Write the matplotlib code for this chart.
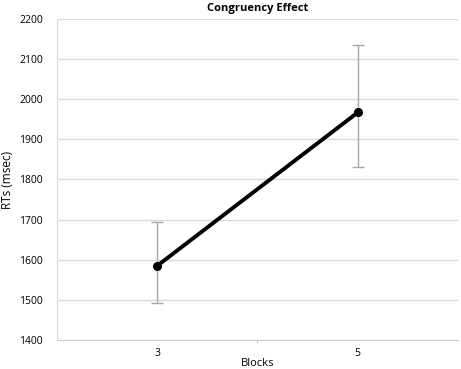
import matplotlib.pyplot as plt

# Congruency effect across blocks
blocks = ['3', '5']
rt_mean = [1585, 1967]
err_upper = [1693, 2135]
err_lower = [1492, 1832]

plt.rcParams['font.family'] = ['Open Sans', 'DejaVu Sans']

yerr = [[m - lo for m, lo in zip(rt_mean, err_lower)],
        [hi - m for m, hi in zip(rt_mean, err_upper)]]

fig = plt.figure(figsize=(4.61, 3.69), dpi=100)
ax = fig.add_axes([0.1236, 0.0786, 0.8699, 0.87])

x = list(range(len(blocks)))
ax.errorbar(x, rt_mean, yerr=yerr, fmt='none', ecolor='#a6a6a6',
            elinewidth=1, capsize=4, capthick=1, zorder=2)
ax.plot(x, rt_mean, color='black', linewidth=2.8, marker='o',
        markersize=5.5, zorder=3)

ax.set_xlim(-0.5, 1.5)
ax.set_ylim(1400, 2200)
ax.set_yticks(range(1400, 2201, 100))
ax.set_xticks(x)
ax.set_xticklabels(blocks)
ax.set_xticks([0.5], minor=True)
ax.tick_params(axis='x', which='minor', length=2, color='#bfbfbf')
ax.tick_params(axis='both', which='major', length=0, labelsize=7.5)
ax.tick_params(axis='x', pad=6)
ax.tick_params(axis='y', pad=10)

ax.grid(axis='y', color='#d9d9d9', linewidth=1)
ax.set_axisbelow(True)
for s in ['top', 'right']:
    ax.spines[s].set_visible(False)
ax.spines['left'].set_color('#d9d9d9')
ax.spines['bottom'].set_color('#d0d0d0')

ax.set_title('Congruency Effect', fontsize=8, fontweight='bold', pad=6)
ax.set_xlabel('Blocks', fontsize=8, labelpad=-1)
ax.set_ylabel('RTs (msec)', fontsize=8.5, labelpad=4)

fig.savefig('out.png', dpi=100)
